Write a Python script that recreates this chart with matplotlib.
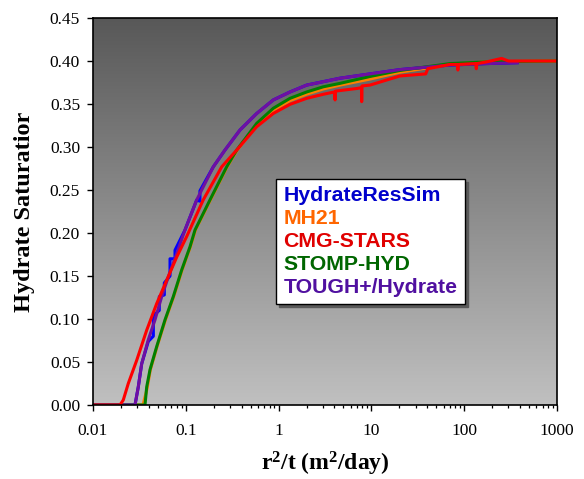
import numpy as np
import matplotlib
matplotlib.use("Agg")
import matplotlib.pyplot as plt
from matplotlib.colors import LinearSegmentedColormap
from matplotlib.lines import Line2D

plt.rcParams['font.family'] = ['Liberation Serif', 'DejaVu Serif']
plt.rcParams['mathtext.fontset'] = 'custom'
plt.rcParams['mathtext.rm'] = 'Liberation Serif:bold'
plt.rcParams['mathtext.it'] = 'Liberation Serif:bold'
plt.rcParams['mathtext.bf'] = 'Liberation Serif:bold'
plt.rcParams['mathtext.default'] = 'rm'

# ---------------- data ----------------
labels = ["HydrateResSim", "MH21", "CMG-STARS", "STOMP-HYD", "TOUGH+/Hydrate"]

tough_x = [0.01, 0.02835, 0.03076, 0.03348, 0.03945, 0.04657, 0.05498, 0.06477, 0.0798,
           0.098, 0.131, 0.198, 0.2645, 0.384, 0.581, 0.876, 1.327, 2.008, 3.03, 4.59,
           9.66, 20.3, 70.3, 174.6, 372]
tough_y = [0, 0, 0.021, 0.048, 0.076, 0.099, 0.126, 0.149, 0.176,
           0.2035, 0.2384, 0.277, 0.2965, 0.3198, 0.339, 0.3547, 0.364, 0.372, 0.376, 0.380,
           0.385, 0.390, 0.3953, 0.397, 0.398]

hrs_x = [0.01, 0.02835, 0.03076, 0.03348, 0.03945, 0.0447, 0.0447, 0.0518, 0.0518, 0.0587,
         0.0587, 0.0676, 0.0676, 0.0765, 0.0765, 0.098, 0.131, 0.142, 0.142, 0.198,
         0.2645, 0.384, 0.581, 0.876, 1.327, 2.008, 3.03, 4.59, 9.66, 20.3, 70.3, 174.6, 372]
hrs_y = [0, 0, 0.021, 0.048, 0.074, 0.080, 0.104, 0.110, 0.126, 0.128,
         0.142, 0.150, 0.170, 0.170, 0.180, 0.2035, 0.2384, 0.237, 0.249, 0.277,
         0.2965, 0.3198, 0.339, 0.3547, 0.364, 0.372, 0.376, 0.380, 0.385, 0.390, 0.3953,
         0.397, 0.398]

mh21_x = [0.01, 0.0345, 0.0375, 0.0385, 0.0415, 0.049, 0.0603, 0.074, 0.0912, 0.112,
          0.127, 0.184, 0.279, 0.358, 0.581, 0.876, 1.327, 2.008, 3.03, 4.59, 9.66,
          20.3, 70.3, 174.6, 1000]
mh21_y = [0, 0, 0.015, 0.021, 0.041, 0.068, 0.099, 0.126, 0.157, 0.184,
          0.2035, 0.2384, 0.277, 0.2965, 0.3255, 0.343, 0.354, 0.3615, 0.3675, 0.372, 0.379,
          0.387, 0.396, 0.399, 0.400]

cmg_x = [0.01, 0.01954, 0.0212, 0.024, 0.02958, 0.0379, 0.0486, 0.0622, 0.0798, 0.1023,
         0.154, 0.244, 0.354, 0.581, 0.876, 1.327, 2.008, 3.03, 4.0, 4.06, 4.10, 6.94,
         7.82, 7.86, 7.92, 9.66, 20.3, 38.5, 40.5, 70.3, 84, 85.5, 87, 133, 135, 137,
         174.6, 253, 300, 1000]
cmg_y = [0, 0, 0.0058, 0.025, 0.052, 0.087, 0.118, 0.145, 0.172, 0.196,
         0.2384, 0.277, 0.2965, 0.3236, 0.339, 0.3496, 0.3566, 0.3613, 0.364, 0.3547, 0.365,
         0.368, 0.369, 0.3527, 0.371, 0.372, 0.3826, 0.385, 0.391, 0.396, 0.396, 0.3895,
         0.396, 0.397, 0.391, 0.397, 0.399, 0.403, 0.400, 0.400]

stomp_x = [0.01, 0.03634, 0.0379, 0.04114, 0.0486, 0.0597, 0.0733, 0.0903, 0.111, 0.1257,
           0.182, 0.276, 0.354, 0.581, 0.876, 1.327, 2.008, 3.03, 4.59, 9.66, 20.3, 70.3,
           174.6, 1000]
stomp_y = [0, 0, 0.021, 0.041, 0.068, 0.099, 0.126, 0.157, 0.184, 0.2035,
           0.2384, 0.277, 0.2965, 0.3275, 0.345, 0.3566, 0.364, 0.370, 0.374, 0.382, 0.389,
           0.397, 0.399, 0.400]

line_colors = ['#0000FF', '#FF7F00', '#FF0000', '#008000', '#7010A0']
text_colors = ['#0000CC', '#FF6600', '#E00000', '#006600', '#5010A0']

xticks = [0.01, 0.1, 1, 10, 100, 1000]
xticklabels = ['0.01', '0.1', '1', '10', '100', '1000']
yticks = [0.0, 0.05, 0.10, 0.15, 0.20, 0.25, 0.30, 0.35, 0.40, 0.45]

# ---------------- figure ----------------
fig = plt.figure(figsize=(5.84, 4.79), dpi=100)
ax = fig.add_axes([93/584, 74/479, 464/584, 387/479])

grad = LinearSegmentedColormap.from_list('bg', ['#c0c0c0', '#585858'])
ax.imshow(np.linspace(0, 1, 256)[:, None], extent=[0, 1, 0, 1], transform=ax.transAxes,
          aspect='auto', cmap=grad, origin='lower', zorder=0)

series = [(hrs_x, hrs_y), (mh21_x, mh21_y), (cmg_x, cmg_y), (stomp_x, stomp_y), (tough_x, tough_y)]
zorders = [3, 2, 6, 4, 5]
for (xs, ys), c, z in zip(series, line_colors, zorders):
    ax.plot(xs, ys, color=c, lw=2.2, zorder=z, solid_joinstyle='round')

ax.set_xscale('log')
ax.set_xlim(0.01, 1000)
ax.set_ylim(0, 0.45)
ax.set_xticks(xticks)
ax.set_xticklabels(xticklabels)
ax.set_yticks(yticks)
ax.set_yticklabels([f'{v:.2f}' for v in yticks])
ax.tick_params(axis='both', which='major', direction='out', length=4.3, width=1,
               labelsize=12.5, color='black')
ax.tick_params(axis='x', which='major', pad=9)
ax.tick_params(axis='y', which='major', pad=5)
ax.tick_params(axis='x', which='minor', direction='out', length=2.4, width=0.9)
ax.tick_params(top=False, right=False, which='both')
for s in ax.spines.values():
    s.set_linewidth(1.2)
    s.set_color('black')
    s.set_zorder(10)

ax.set_xlabel(r'r$^{2}$/t (m$^{2}$/day)', fontsize=17, fontweight='bold')
ax.xaxis.set_label_coords(0.5, (405 - 471) / 387)
ax.xaxis.label.set_va('baseline')
ax.set_ylabel('Hydrate Saturatior', fontsize=17.5, fontweight='bold')
ax.yaxis.set_label_coords((25 - 93) / 464, 0.5)
ax.yaxis.label.set_va('center')

handles = [Line2D([], [], lw=0, marker=None) for _ in labels]
leg = ax.legend(handles, labels, loc='upper left', bbox_to_anchor=((276 - 93) / 464, (405 - 179) / 387),
                borderaxespad=0, frameon=True, fancybox=False, shadow={'color': '0.35', 'alpha': 1.0},
                handlelength=0, handletextpad=0, labelspacing=0.18, borderpad=0.35,
                prop={'family': 'Liberation Sans', 'weight': 'bold', 'size': 15.3})
leg.get_frame().set_edgecolor('black')
leg.get_frame().set_linewidth(1.0)
leg.get_frame().set_facecolor('white')
leg.set_zorder(20)
for t, c in zip(leg.get_texts(), text_colors):
    t.set_color(c)

fig.savefig('out.png', dpi=100)
